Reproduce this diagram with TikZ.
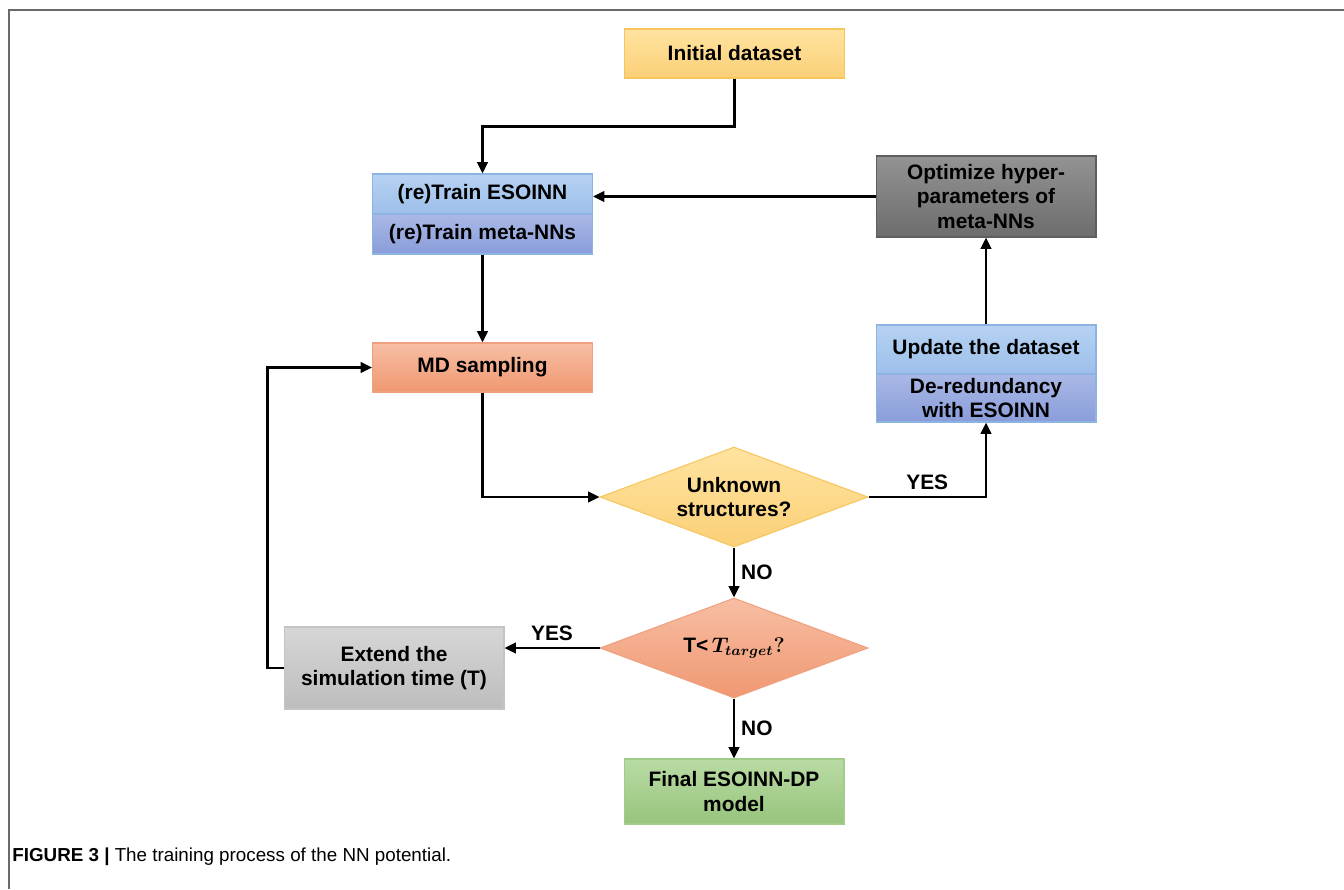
\documentclass[tikz,border=0pt]{standalone}
\usepackage{amsmath,amssymb}
\usepackage{fontspec}
\setmainfont{Liberation Sans}
\usepackage{xcolor}
\usepackage{tikz}
\usetikzlibrary{shapes.geometric,arrows.meta}
\definecolor{initTop}{HTML}{FFE3A0}
\definecolor{initBot}{HTML}{FBD077}
\definecolor{initLine}{HTML}{F6C65C}
\definecolor{blueTop}{HTML}{B6D2F2}
\definecolor{blueBot}{HTML}{9DBFEA}
\definecolor{blueLine}{HTML}{8DB3E2}
\definecolor{violTop}{HTML}{A9B8E6}
\definecolor{violBot}{HTML}{8A9DDA}
\definecolor{grayTop}{HTML}{939393}
\definecolor{grayBot}{HTML}{6D6D6D}
\definecolor{grayLine}{HTML}{5E5E5E}
\definecolor{salmTop}{HTML}{F7BEA3}
\definecolor{salmBot}{HTML}{F09872}
\definecolor{salmLine}{HTML}{EFA07E}
\definecolor{lgrTop}{HTML}{D6D6D6}
\definecolor{lgrBot}{HTML}{BDBDBD}
\definecolor{lgrLine}{HTML}{C4C4C4}
\definecolor{grnTop}{HTML}{B9DBA4}
\definecolor{grnBot}{HTML}{97C47C}
\definecolor{grnLine}{HTML}{A3CC8B}
\definecolor{frameLine}{HTML}{6A6A6A}
\tikzset{
  box/.style={rectangle, line width=0.6pt, minimum width=4.4cm, inner sep=2pt,
    align=center, font=\fontsize{11.9}{14}\selectfont\bfseries},
  yellowbox/.style={box, draw=initLine, top color=initTop, bottom color=initBot},
  bluebox/.style={box, draw=blueLine, top color=blueTop, bottom color=blueBot},
  violetbox/.style={box, draw=blueLine, top color=violTop, bottom color=violBot},
  darkbox/.style={box, draw=grayLine, top color=grayTop, bottom color=grayBot},
  salmonbox/.style={box, draw=salmLine, top color=salmTop, bottom color=salmBot},
  lightbox/.style={box, draw=lgrLine, top color=lgrTop, bottom color=lgrBot},
  greenbox/.style={box, draw=grnLine, top color=grnTop, bottom color=grnBot},
  dia/.style={diamond, aspect=2.68, minimum width=5.36cm, minimum height=2cm,
    inner sep=0pt, line width=0.6pt, align=center,
    font=\fontsize{11.9}{14}\selectfont\bfseries},
  flow/.style={draw=black, line width=1.5pt, -{Triangle[length=6.5pt,width=6pt]}},
  lab/.style={font=\fontsize{11.9}{14}\selectfont\bfseries},
  frame/.style={draw=frameLine, line width=0.9pt}
}

\begin{document}
\begin{tikzpicture}[x=0.02cm, y=-0.02cm]
  \useasboundingbox (0,0) rectangle (1344,889);
  \draw[frame] (9,889) -- (9,10) -- (1344,10);

  % boxes
  \node[yellowbox, minimum height=0.98cm] (init) at (734.5,53.5) {Initial dataset};
  \node[bluebox, minimum height=0.8cm] (trainE) at (482.5,194) {(re)Train ESOINN};
  \node[violetbox, minimum height=0.8cm] (trainM) at (482.5,234) {(re)Train meta-NNs};
  \node[darkbox, minimum height=1.62cm] (opt) at (986,196.5) {Optimize hyper-\\parameters of\\meta-NNs};
  \node[bluebox, minimum height=0.98cm] (upd) at (986,349.5) {Update the dataset};
  \node[violetbox, minimum height=0.96cm] (dered) at (986,398) {De-redundancy\\with ESOINN};
  \node[salmonbox, minimum height=0.98cm] (md) at (482.5,367.5) {MD sampling};
  \node[dia, draw=initLine, top color=initTop, bottom color=initBot] (unk) at (734,497) {Unknown\\structures?};
  \node[dia, draw=salmLine, top color=salmTop, bottom color=salmBot] (tchk) at (734,648)
    {T<\,$\boldsymbol{T_{target}?}$};
  \node[lightbox, minimum height=1.64cm] (ext) at (394,668) {Extend the\\simulation time (T)};
  \node[greenbox, minimum height=1.3cm] (final) at (734,791.5) {Final ESOINN-DP\\model};

  % connectors
  \draw[flow] (init.south) -- ++(0,48) -| (trainE.north);
  \draw[flow] (opt.west) -- (opt.west -| trainE.east);
  \draw[flow] (trainM.south) -- (md.north);
  \draw[flow] (md.south) |- (unk.west);
  \draw[flow] (unk.east) -| (dered.south) node[lab, pos=0.25, above] {YES};
  \draw[flow] (upd.north) -- (opt.south);
  \draw[flow] (unk.south) -- (tchk.north) node[lab, midway, right] {NO};
  \draw[flow] (tchk.west) -- (tchk.west -| ext.east) node[lab, midway, above] {YES};
  \draw[flow] (ext.west) -- ++(-16,0) |- (md.west);
  \draw[flow] (tchk.south) -- (final.north) node[lab, midway, right] {NO};

  \node[anchor=west, inner sep=0pt, font=\fontsize{10.7}{13}\selectfont] (cap) at (12,857)
    {\textbf{FIGURE 3 |} The training process of the NN potential.};
\end{tikzpicture}
\end{document}
